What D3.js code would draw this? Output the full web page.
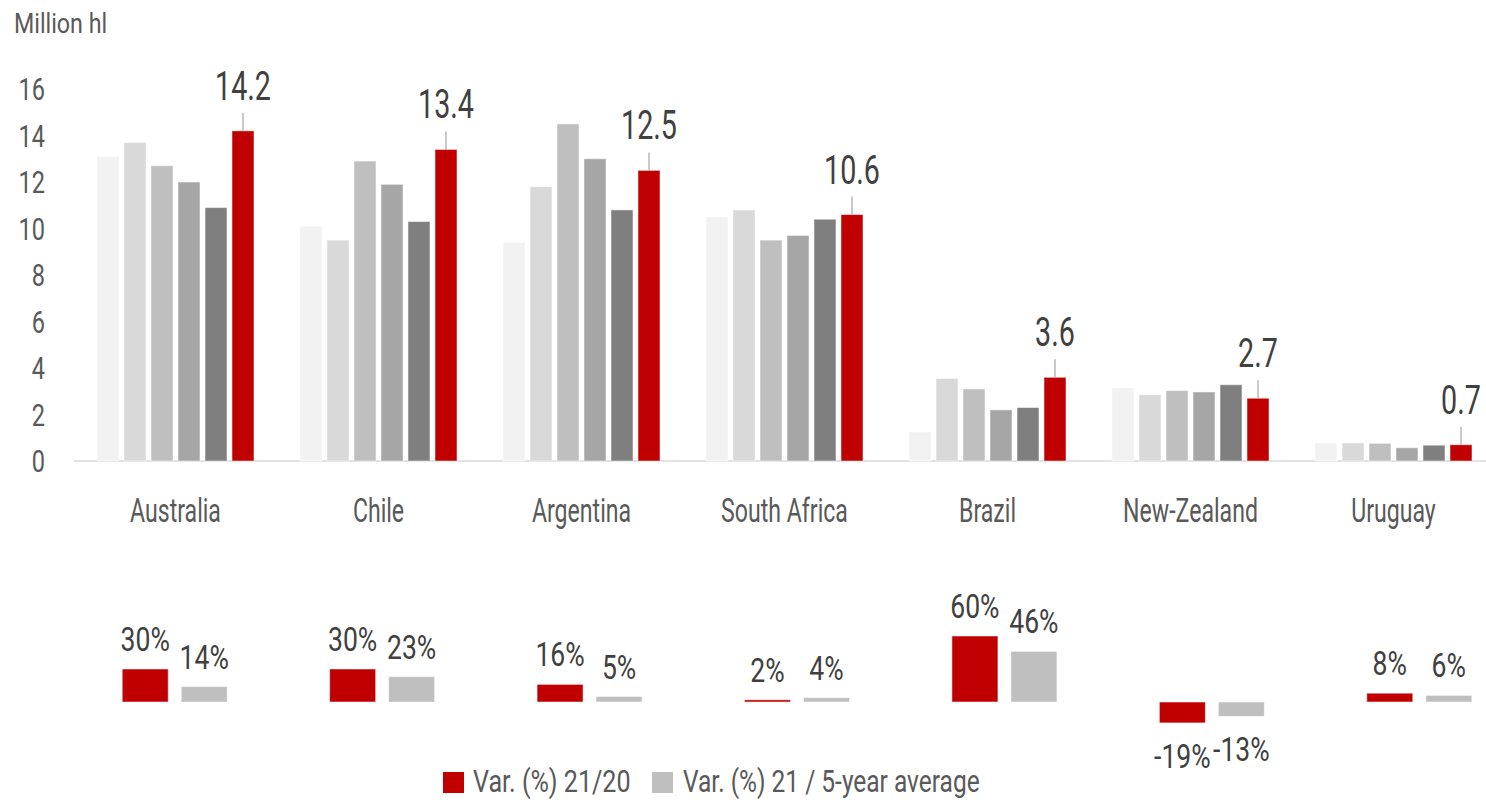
<!DOCTYPE html>
<html>
<head>
<meta charset="utf-8">
<script src="https://cdn.jsdelivr.net/npm/d3@7"></script>
<style>
  html, body { margin: 0; padding: 0; background: #fff; }
  svg text { font-family: Roboto, "Liberation Sans", sans-serif; font-weight: 400; }
</style>
</head>
<body>
<div id="chart"></div>
<script>
// production per country, five previous years (light to dark grey) then 2021 (red)
const countries = ['Australia', 'Chile', 'Argentina', 'South Africa', 'Brazil', 'New-Zealand', 'Uruguay'];
const seriesKeys = ['y2016', 'y2017', 'y2018', 'y2019', 'y2020', 'y2021'];
const y2016 = [13.1, 10.1, 9.4, 10.5, 1.25, 3.15, 0.77];
const y2017 = [13.7, 9.5, 11.8, 10.8, 3.55, 2.85, 0.78];
const y2018 = [12.7, 12.9, 14.5, 9.5, 3.1, 3.03, 0.76];
const y2019 = [12.0, 11.9, 13.0, 9.7, 2.2, 2.97, 0.57];
const y2020 = [10.9, 10.3, 10.8, 10.4, 2.3, 3.28, 0.68];
const y2021 = [14.2, 13.4, 12.5, 10.6, 3.6, 2.7, 0.7];
const yTicks = [0, 2, 4, 6, 8, 10, 12, 14, 16];

// variation in %
const var2120 = [30, 30, 16, 2, 60, -19, 8];
const varAvg = [14, 23, 5, 4, 46, -13, 6];
const legendLabels = ['Var. (%) 21/20', 'Var. (%) 21 / 5-year average'];

const seriesColors = ['#f2f2f2', '#d9d9d9', '#bfbfbf', '#a6a6a6', '#7f7f7f', '#c00000'];
const RED = '#c00000', GREY = '#bfbfbf';

const W = 1486, H = 802;

const svg = d3.select('#chart').append('svg')
    .attr('width', W).attr('height', H)
    .attr('viewBox', `0 0 ${W} ${H}`);

// text helper: horizontally squeezed text (no condensed face installed)
function label(parent, x, y, str, size, color, anchor, sx) {
    const g = parent.append('g').attr('transform', `translate(${x},${y})`);
    g.append('text')
        .attr('transform', `scale(${sx},1)`)
        .attr('text-anchor', anchor)
        .attr('font-size', size)
        .attr('fill', color)
        .text(str);
    return g;
}

const table = countries.map((c, i) => ({
    country: c,
    values: [y2016[i], y2017[i], y2018[i], y2019[i], y2020[i], y2021[i]],
    v1: var2120[i],
    v2: varAvg[i]
}));

const x = d3.scaleBand().domain(countries).range([74, 1495]);
const xInner = d3.scaleBand().domain(seriesKeys).range([-78.5, 78.5]).paddingInner(5 / 27);
const y = d3.scaleLinear().domain([0, 16]).range([461, 89]);

// axis title
label(svg, 14, 33, 'Million hl', 28, '#595959', 'start', 0.83);

// y tick labels
yTicks.forEach(t => label(svg, 45, y(t) + 11, t, 31, '#595959', 'end', 0.76));

// baseline
svg.append('line')
    .attr('x1', 74).attr('x2', W)
    .attr('y1', y(0)).attr('y2', y(0))
    .attr('stroke', '#d9d9d9').attr('stroke-width', 1.5);

// bars
const groups = svg.append('g').selectAll('g')
    .data(table).enter().append('g')
    .attr('transform', d => `translate(${x(d.country) + x.bandwidth() / 2},0)`);

groups.selectAll('rect')
    .data(d => d.values.map((v, i) => ({ key: seriesKeys[i], v, i })))
    .enter().append('rect')
    .attr('x', d => xInner(d.key))
    .attr('width', xInner.bandwidth())
    .attr('y', d => y(d.v))
    .attr('height', d => y(0) - y(d.v))
    .attr('fill', d => seriesColors[d.i])
    .attr('stroke', '#ffffff').attr('stroke-opacity', 0.5).attr('stroke-width', 1);

// leader lines and value labels on the 2021 bar
groups.each(function (d) {
    const g = d3.select(this);
    const cx = xInner('y2021') + xInner.bandwidth() / 2;
    const top = y(d.values[5]);
    g.append('line')
        .attr('x1', cx).attr('x2', cx)
        .attr('y1', top).attr('y2', top - 18)
        .attr('stroke', '#a6a6a6').attr('stroke-width', 1.2);
    label(g, cx, top - 31, d.values[5].toFixed(1), 41, '#404040', 'middle', 0.7);
});

// category labels
table.forEach(d => label(svg, x(d.country) + x.bandwidth() / 2, 522, d.country, 33, '#595959', 'middle', 0.7));

// lower panel: variation bars (slightly wider spacing than the top panel)
const xb = d3.scaleBand().domain(countries).range([71, 1523]);
const yv = d3.scaleLinear().domain([-20, 60]).range([724, 636]);
const xv = d3.scaleBand().domain(['v1', 'v2']).range([-52.5, 52.5]).paddingInner(13 / 59);

const vgroups = svg.append('g').selectAll('g')
    .data(table).enter().append('g')
    .attr('transform', d => `translate(${xb(d.country) + xb.bandwidth() / 2},0)`);

vgroups.each(function (d) {
    const g = d3.select(this);
    [['v1', d.v1, RED], ['v2', d.v2, GREY]].forEach(([k, v, col]) => {
        const y0 = yv(Math.max(0, v)), y1 = yv(Math.min(0, v));
        g.append('rect')
            .attr('x', xv(k)).attr('width', xv.bandwidth())
            .attr('y', y0).attr('height', y1 - y0)
            .attr('fill', col)
            .attr('stroke', '#ffffff').attr('stroke-opacity', 0.5).attr('stroke-width', 1);
        const cx = xv(k) + xv.bandwidth() / 2;
        const ty = v >= 0 ? y0 - 18 : y1 + 45;
        label(g, cx, ty, v + '%', 34, '#404040', 'middle', 0.78);
    });
});

// legend
const legend = svg.append('g');
legend.append('rect').attr('x', 443).attr('y', 772).attr('width', 21).attr('height', 21).attr('fill', RED);
label(legend, 473, 792, legendLabels[0], 31, '#595959', 'start', 0.81);
legend.append('rect').attr('x', 652).attr('y', 772).attr('width', 21).attr('height', 21).attr('fill', GREY);
label(legend, 683, 792, legendLabels[1], 31, '#595959', 'start', 0.79);
</script>
</body>
</html>
